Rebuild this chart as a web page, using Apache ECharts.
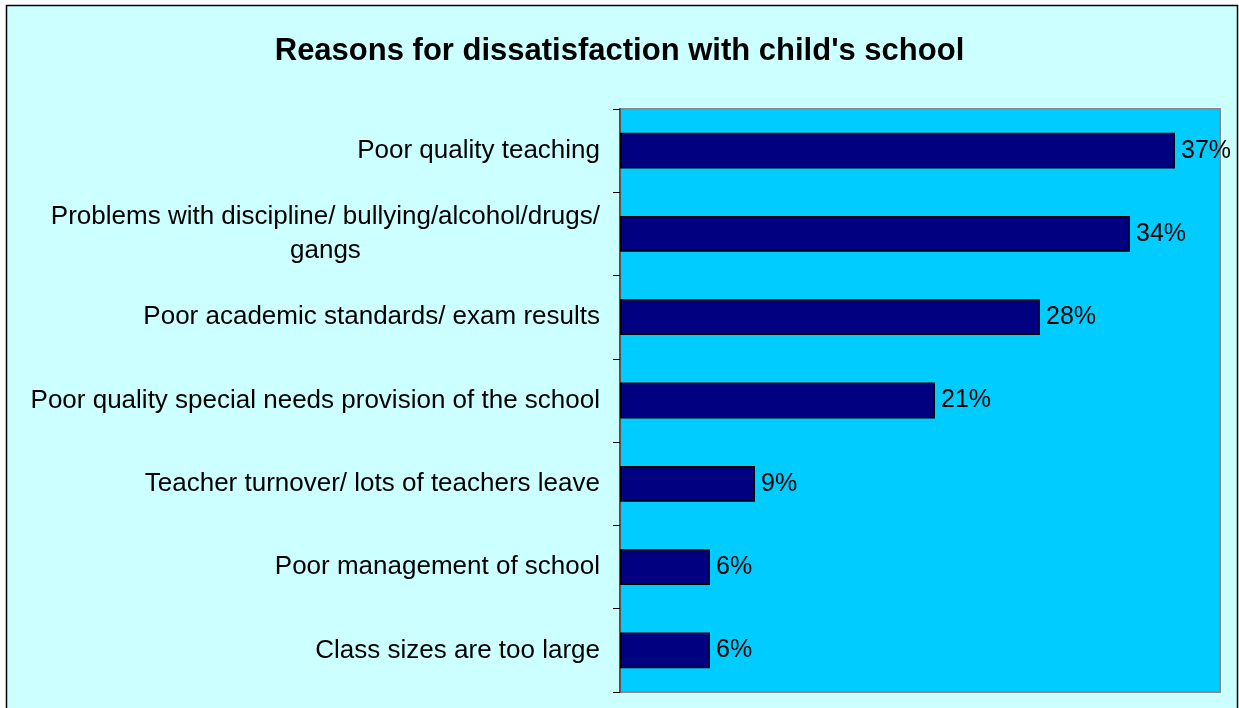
<!DOCTYPE html>
<html>
<head>
<meta charset="utf-8">
<script src="https://cdn.jsdelivr.net/npm/echarts@6/dist/echarts.min.js"></script>
<style>
  html, body { margin: 0; padding: 0; background: #ffffff; }
  #chart { width: 1239px; height: 708px; }
</style>
</head>
<body>
<div id="chart"></div>
<script>
// Reasons given, listed top to bottom
const reasons = [
  'Poor quality teaching',
  'Problems with discipline/ bullying/alcohol/drugs/\ngangs',
  'Poor academic standards/ exam results',
  'Poor quality special needs provision of the school',
  'Teacher turnover/ lots of teachers leave',
  'Poor management of school',
  'Class sizes are too large'
];
// Share of respondents, percent
const shares = [37, 34, 28, 21, 9, 6, 6];

const FONT = 'Liberation Sans, Arial, sans-serif';
const chart = echarts.init(document.getElementById('chart'), null, { renderer: 'canvas' });

chart.setOption({
  backgroundColor: '#ffffff',
  animation: false,
  graphic: [{
    type: 'rect',
    z: -10,
    silent: true,
    shape: { x: 6.5, y: 5.5, width: 1231, height: 720 },
    style: { fill: '#CCFFFF', stroke: '#000000', lineWidth: 1.5 }
  }],
  title: {
    text: "Reasons for dissatisfaction with child's school",
    left: 'center',
    top: 31,
    textStyle: {
      fontFamily: FONT,
      fontSize: 31,
      fontWeight: 'bold',
      color: '#000000'
    }
  },
  grid: {
    left: 620,
    top: 109,
    right: 19,
    bottom: 16,
    show: true,
    backgroundColor: '#00CCFF',
    borderColor: '#8a8a8a',
    borderWidth: 2
  },
  xAxis: {
    type: 'value',
    min: 0,
    max: 40,
    show: false,
    splitLine: { show: false }
  },
  yAxis: {
    type: 'category',
    inverse: true,
    data: reasons,
    axisLine: { show: true, lineStyle: { color: '#555555', width: 2 } },
    axisTick: { show: true, length: 7, lineStyle: { color: '#000000', width: 1 } },
    axisLabel: {
      margin: 20,
      fontFamily: FONT,
      fontSize: 26,
      color: '#000000',
      lineHeight: 34,
      formatter: function (v) {
        return v.split('\n').map(function (s) { return '{c|' + s + '}'; }).join('\n');
      },
      rich: {
        c: {
          align: 'center',
          fontFamily: FONT,
          fontSize: 26,
          lineHeight: 34,
          color: '#000000'
        }
      }
    }
  },
  series: [{
    type: 'bar',
    data: shares,
    barWidth: '43%',
    itemStyle: {
      color: '#000080',
      borderColor: '#000000',
      borderWidth: 1.5
    },
    label: {
      show: true,
      position: 'right',
      distance: 6,
      formatter: '{c}%',
      fontFamily: FONT,
      fontSize: 25,
      color: '#000000'
    }
  }]
});
</script>
</body>
</html>
